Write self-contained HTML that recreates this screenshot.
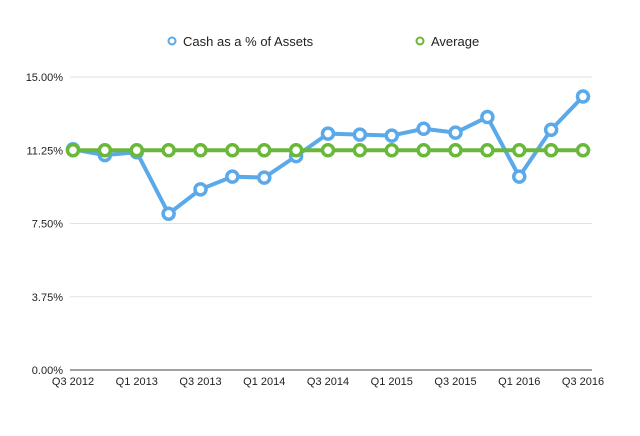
<!DOCTYPE html>
<html><head><meta charset="utf-8"><style>
body{margin:0;background:#fff;}
svg{display:block;font-family:"Liberation Sans",sans-serif;}
</style></head><body>
<svg id="chart" width="640" height="436">
<g>
<g><circle cx="172" cy="41" r="3.5" fill="#fff" stroke="#5aa9ea" stroke-width="2"/><text x="183" y="46" font-size="13" fill="#222">Cash as a % of Assets</text></g>
<g><circle cx="420" cy="41" r="3.5" fill="#fff" stroke="#6ab83a" stroke-width="2"/><text x="431" y="46" font-size="13" fill="#222">Average</text></g>
</g>
<g id="grid"></g><g id="series"></g><g id="axes"></g>
</svg>
<script>
const categories=["Q3 2012","Q4 2012","Q1 2013","Q2 2013","Q3 2013","Q4 2013","Q1 2014","Q2 2014","Q3 2014","Q4 2014","Q1 2015","Q2 2015","Q3 2015","Q4 2015","Q1 2016","Q2 2016","Q3 2016"];
const cashValues=[11.3,11.0,11.15,8.0,9.25,9.9,9.85,10.95,12.1,12.05,12.0,12.35,12.15,12.95,9.9,12.3,14.0];
const averageValues=[11.25,11.25,11.25,11.25,11.25,11.25,11.25,11.25,11.25,11.25,11.25,11.25,11.25,11.25,11.25,11.25,11.25];
const yTicks=[0,3.75,7.5,11.25,15];
const yTickLabels=["0.00%","3.75%","7.50%","11.25%","15.00%"];
const xLabelIdx=[0,2,4,6,8,10,12,14,16];
const NS="http://www.w3.org/2000/svg";
const x0=73,x1=583,yBase=370,yTop=77;
const xS=i=>x0+(x1-x0)*i/(categories.length-1);
const yS=v=>yBase-(yBase-yTop)*v/15;
function mk(tag,attrs,parent){const e=document.createElementNS(NS,tag);for(const k in attrs)e.setAttribute(k,attrs[k]);parent.appendChild(e);return e;}
const grid=document.getElementById('grid'),axes=document.getElementById('axes'),ser=document.getElementById('series');
yTicks.forEach((t,i)=>{
 const l=mk('line',{x1:70,x2:592,y1:yS(t),y2:yS(t),stroke:i==0?'#444':'#e2e2e2','stroke-width':1},grid);
 
 
 const tx=mk('text',{x:63,y:yS(t)+4,'text-anchor':'end','font-size':11,fill:'#222'},axes);
 tx.textContent=yTickLabels[i];
 
 
});
xLabelIdx.forEach(i=>{
 const tx=mk('text',{x:xS(i),y:385,'text-anchor':'middle','font-size':11,fill:'#222'},axes);
 tx.textContent=categories[i];
 
 
});
function drawSeries(vals,color,name){
 const g=mk('g',{},ser);
 
 
 const p=mk('polyline',{points:vals.map((v,i)=>xS(i)+','+yS(v)).join(' '),fill:'none',stroke:color,'stroke-width':4,'stroke-linejoin':'round'},g);
 
 
 vals.forEach((v,i)=>{
  const c=mk('circle',{cx:xS(i),cy:yS(v),r:5.5,fill:'#fff',stroke:color,'stroke-width':3.5},g);
  
  
 });
}
drawSeries(cashValues,'#5aa9ea','cash');
drawSeries(averageValues,'#6ab83a','average');
</script>
</body></html>
